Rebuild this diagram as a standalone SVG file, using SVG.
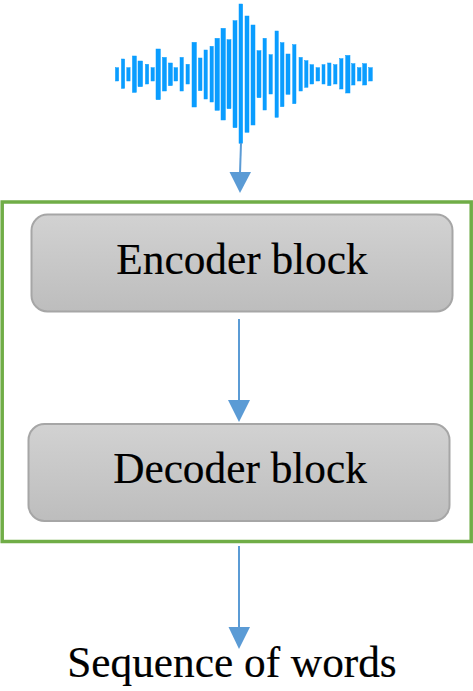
<svg xmlns="http://www.w3.org/2000/svg" width="473" height="691" viewBox="0 0 473 691">
<style>
.t{font-family:"Liberation Serif","Times New Roman",serif;font-size:43.3px;fill:#000;stroke:#000;stroke-width:.2}
.b{fill:url(#g);stroke:#a6a6a6;stroke-width:2}
.c{stroke:#5b9bd5;stroke-width:2;fill:none}
.h{fill:#5b9bd5}
.w{fill:#0a9dff;stroke:#0a9dff;stroke-width:.5}
</style>
<defs><linearGradient id="g" x1="0" y1="0" x2="0" y2="1"><stop offset="0" stop-color="#d2d2d2"/><stop offset="1" stop-color="#bdbdbd"/></linearGradient></defs>
<rect width="473" height="691" fill="#fff"/>
<g id="waveform" class="w">
<rect x="115.4" y="67.7" width="3.3" height="13.3"/><rect x="121.4" y="59" width="3.3" height="29.4"/><rect x="126.8" y="67.7" width="3.3" height="13.3"/><rect x="132.4" y="56" width="4" height="36.4"/><rect x="138" y="61" width="4.6" height="25.7"/><rect x="145.4" y="64.3" width="3.3" height="19.7"/><rect x="151" y="67.7" width="3.3" height="13.3"/><rect x="156" y="49" width="4.4" height="50.7"/><rect x="162.4" y="57.4" width="4" height="33.6"/><rect x="168.4" y="63" width="4" height="22.7"/><rect x="174" y="67.7" width="3.7" height="13.3"/><rect x="180" y="57.4" width="3.3" height="33.6"/><rect x="186" y="64.3" width="3.3" height="19.7"/><rect x="192" y="42.3" width="4.4" height="64.7"/><rect x="198.4" y="58" width="3.6" height="32.7"/><rect x="204" y="50" width="3.3" height="49"/><rect x="210" y="46.3" width="3.3" height="55.7"/><rect x="215" y="38.3" width="4.4" height="72"/><rect x="221" y="28.3" width="4.4" height="91.7"/><rect x="227" y="39.7" width="4" height="69"/><rect x="233" y="20.7" width="4" height="107"/><rect x="239" y="4" width="3.7" height="139.3"/><rect x="245" y="16" width="4" height="116.3"/><rect x="251" y="25" width="4" height="100"/><rect x="257" y="50.7" width="4" height="47"/><rect x="263" y="38.3" width="3.3" height="71.7"/><rect x="269" y="54.7" width="3.3" height="39.3"/><rect x="275" y="31" width="3.3" height="86.3"/><rect x="280.4" y="42.7" width="3.6" height="64"/><rect x="286" y="54" width="4" height="40.3"/><rect x="292.7" y="44.7" width="3.3" height="59"/><rect x="299" y="57.4" width="3.3" height="33.6"/><rect x="304.7" y="60.7" width="3.3" height="26.6"/><rect x="310" y="64.7" width="3.7" height="19.3"/><rect x="316" y="67.7" width="3.7" height="13.3"/><rect x="322" y="64.7" width="3" height="19.3"/><rect x="327.7" y="63" width="3.3" height="22.7"/><rect x="333.7" y="64.7" width="3.3" height="19.3"/><rect x="339.7" y="58.7" width="3.3" height="30.3"/><rect x="345.7" y="55.4" width="4.3" height="37.6"/><rect x="351.7" y="63.7" width="3.3" height="21.3"/><rect x="357.4" y="67.7" width="3.6" height="13.3"/><rect x="362.7" y="63.7" width="4" height="21.3"/><rect x="368.7" y="67.7" width="3.6" height="13.3"/>
</g>
<g id="connectors">
<path class="c" d="M241 143L240 173"/><polygon class="h" points="229.5,172 251,172 240,193"/>
<path class="c" d="M239 319V401"/><polygon class="h" points="228,400 250,400 239,422"/>
<path class="c" d="M239 546V628"/><polygon class="h" points="228.5,627 250,627 239,649"/>
</g>
<g id="container"><rect x="2.2" y="202" width="469" height="339.5" fill="none" stroke="#70ad47" stroke-width="3.5"/></g>
<g id="encoder"><rect class="b" x="31.5" y="214.5" width="421" height="97" rx="16"/><text class="t" x="242" y="274" text-anchor="middle">Encoder block</text></g>
<g id="decoder"><rect class="b" x="28.5" y="424" width="421" height="97" rx="16"/><text class="t" x="240" y="483" text-anchor="middle">Decoder block</text></g>
<g id="output"><text class="t" x="232" y="677" text-anchor="middle">Sequence of words</text></g>
</svg>
